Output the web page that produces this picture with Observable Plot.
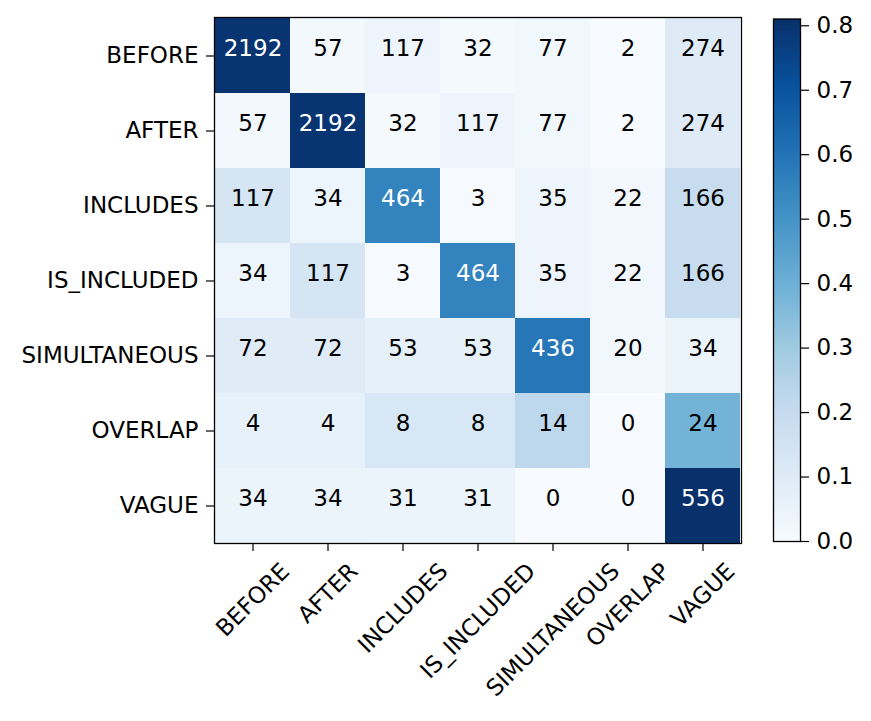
<!DOCTYPE html>
<html><head><meta charset="utf-8">
<script src="https://cdn.jsdelivr.net/npm/d3@7"></script>
<script src="https://cdn.jsdelivr.net/npm/@observablehq/plot@0.6"></script>
<style>
body{margin:0;background:#fff;}
#wrap{position:relative;width:871px;height:721px;background:#fff;overflow:hidden;}
#wrap svg{position:absolute;top:0;background:none;overflow:visible;}
</style></head><body><div id="wrap"></div>
<script>
const labels = ["BEFORE","AFTER","INCLUDES","IS_INCLUDED","SIMULTANEOUS","OVERLAP","VAGUE"];
const rowBefore       = [2192, 57, 117, 32, 77, 2, 274];
const rowAfter        = [57, 2192, 32, 117, 77, 2, 274];
const rowIncludes     = [117, 34, 464, 3, 35, 22, 166];
const rowIsIncluded   = [34, 117, 3, 464, 35, 22, 166];
const rowSimultaneous = [72, 72, 53, 53, 436, 20, 34];
const rowOverlap      = [4, 4, 8, 8, 14, 0, 24];
const rowVague        = [34, 34, 31, 31, 0, 0, 556];
const colorbarTicks = [0, 0.1, 0.2, 0.3, 0.4, 0.5, 0.6, 0.7, 0.8];
const blues = ["#f7fbff","#deebf7","#c6dbef","#9ecae1","#6baed6","#4292c6","#2171b5","#08519c","#08306b"];

const rows = [rowBefore, rowAfter, rowIncludes, rowIsIncluded, rowSimultaneous, rowOverlap, rowVague];
const cells = [];
rows.forEach((r, i) => {
  const s = d3.sum(r);
  r.forEach((v, j) => cells.push({actual: labels[i], pred: labels[j], count: v, norm: v / s}));
});
const vmax = d3.max(cells, d => d.norm);
const colorOpts = {type: "linear", domain: [0, vmax], interpolate: d3.piecewise(d3.interpolateRgb, blues)};
const fs = 23;
const font = "DejaVu Sans";
const numDy = -0.32 * fs;

const wrap = document.getElementById("wrap");

const main = Plot.plot({
  width: 745, height: 721,
  marginLeft: 214, marginRight: 4, marginTop: 17, marginBottom: 178,
  style: {fontFamily: font, fontSize: fs + "px", color: "black", background: "none", overflow: "visible"},
  x: {domain: labels, padding: 0, axis: null},
  y: {domain: labels, padding: 0, axis: null},
  color: colorOpts,
  marks: [
    Plot.cell(cells, {x: "pred", y: "actual", fill: "norm", shapeRendering: "crispEdges"}),
    Plot.text(cells, {filter: d => d.norm <= vmax / 2, x: "pred", y: "actual", text: d => String(d.count), fill: "black", fontSize: fs, dy: numDy}),
    Plot.text(cells, {filter: d => d.norm > vmax / 2, x: "pred", y: "actual", text: d => String(d.count), fill: "white", fontSize: fs, dy: numDy}),
    Plot.frame({stroke: "black", strokeWidth: 1.3}),
    Plot.axisY({tickSize: 8, tickPadding: 8, label: null, fontSize: fs, strokeWidth: 1.2}),
    Plot.axisX({tickSize: 8, label: null, tickFormat: () => "", strokeWidth: 1.2}),
    Plot.text(labels, {x: d => d, frameAnchor: "bottom", rotate: -45, textAnchor: "middle", fontSize: fs, fill: "black", className: "xlab"})
  ]
});
main.style.left = "0px";
wrap.appendChild(main);

const xs = main.scale("x");
const xg = main.querySelector("g.xlab");
xg.removeAttribute("transform");
xg.querySelectorAll("text").forEach((el, i) => {
  const w = el.getComputedTextLength();
  const cx = xs.apply(labels[i]) + xs.bandwidth / 2;
  const cy = 561 + (w + 0.73 * fs) / (2 * Math.SQRT2);
  el.setAttribute("transform", `translate(${cx},${cy}) rotate(-45)`);
  el.setAttribute("x", 0); el.setAttribute("y", 0);
  el.setAttribute("dy", "0.35em");
});

const cb = Plot.plot({
  width: 126, height: 721,
  marginLeft: 28, marginRight: 71, marginTop: 18.5, marginBottom: 180,
  style: {fontFamily: font, fontSize: fs + "px", color: "black", background: "none"},
  x: {domain: [0, 1], axis: null},
  y: {domain: [0, vmax], axis: null},
  color: colorOpts,
  marks: [
    Plot.raster({x1: 0, x2: 1, y1: 0, y2: vmax, fill: (x, y) => y, width: 1, height: 400, imageRendering: "auto"}),
    Plot.frame({stroke: "black", strokeWidth: 1.3}),
    Plot.axisY(colorbarTicks, {anchor: "right", tickSize: 8, tickPadding: 8, tickFormat: d3.format(".1f"), label: null, fontSize: fs, strokeWidth: 1.2})
  ]
});
cb.style.left = "745px";
wrap.appendChild(cb);
</script></body></html>
